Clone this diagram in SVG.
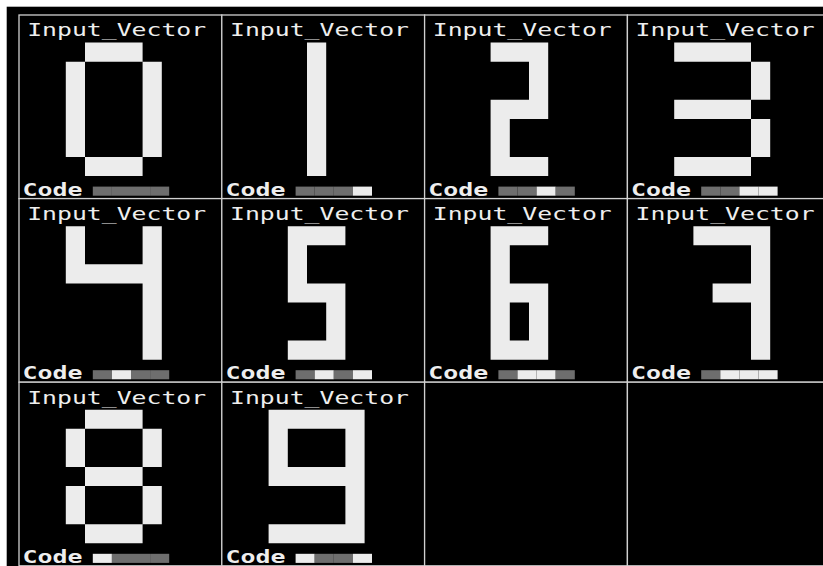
<svg xmlns="http://www.w3.org/2000/svg" width="823" height="566" viewBox="0 0 823 566">
<style>
.bg{fill:#ffffff}
.frame{fill:#000000}
.cell{fill:#000000;stroke:#d0d0d0;stroke-width:1.3}
.px{fill:#ececec;fill-rule:evenodd}
.lbl{font-family:"DejaVu Sans Mono","Liberation Mono",monospace;font-size:17px;fill:#eeeeee}
.code{font-family:"DejaVu Sans Mono","Liberation Mono",monospace;font-size:18px;font-weight:bold;fill:#eeeeee}
.b0{fill:#6e6e6e}
.b1{fill:#ececec}
</style>
<defs>
<g id="head">
<rect class="cell" width="202.8" height="183.6"/>
<text class="lbl" x="8.2" y="21.4" textLength="179" lengthAdjust="spacingAndGlyphs">Input_Vector</text>
<text class="code" x="3.6" y="180.8" textLength="60" lengthAdjust="spacingAndGlyphs">Code</text>
</g>
</defs>
<rect class="bg" x="0" y="0" width="823" height="566"/>
<rect class="frame" x="6.7" y="6.7" width="816.3" height="559.3"/>

<g id="panel-0" transform="translate(19,15)">
<use href="#head"/>
<path class="px" transform="translate(46.8,27.6) scale(19.2,19.07)" d="M1,0H4V1H1Z M0,1H1V6H0Z M4,1H5V6H4Z M1,6H4V7H1Z"/>
<rect class="b0" x="73.8" y="171.6" width="19.1" height="9.1"/><rect class="b0" x="92.9" y="171.6" width="19.1" height="9.1"/><rect class="b0" x="112" y="171.6" width="19.1" height="9.1"/><rect class="b0" x="131.1" y="171.6" width="19.1" height="9.1"/>
</g>

<g id="panel-1" transform="translate(221.8,15)">
<use href="#head"/>
<path class="px" transform="translate(46.8,27.6) scale(19.2,19.07)" d="M2,0H3V7H2Z"/>
<rect class="b0" x="73.8" y="171.6" width="19.1" height="9.1"/><rect class="b0" x="92.9" y="171.6" width="19.1" height="9.1"/><rect class="b0" x="112" y="171.6" width="19.1" height="9.1"/><rect class="b1" x="131.1" y="171.6" width="19.1" height="9.1"/>
</g>

<g id="panel-2" transform="translate(424.6,15)">
<use href="#head"/>
<path class="px" transform="translate(46.8,27.6) scale(19.2,19.07)" d="M1,0H4V4H2V6H4V7H1V3H3V1H1Z"/>
<rect class="b0" x="73.8" y="171.6" width="19.1" height="9.1"/><rect class="b0" x="92.9" y="171.6" width="19.1" height="9.1"/><rect class="b1" x="112" y="171.6" width="19.1" height="9.1"/><rect class="b0" x="131.1" y="171.6" width="19.1" height="9.1"/>
</g>

<g id="panel-3" transform="translate(627.4,15)">
<use href="#head"/>
<path class="px" transform="translate(46.8,27.6) scale(19.2,19.07)" d="M0,0H4V1H0Z M4,1H5V3H4Z M0,3H4V4H0Z M4,4H5V6H4Z M0,6H4V7H0Z"/>
<rect class="b0" x="73.8" y="171.6" width="19.1" height="9.1"/><rect class="b0" x="92.9" y="171.6" width="19.1" height="9.1"/><rect class="b1" x="112" y="171.6" width="19.1" height="9.1"/><rect class="b1" x="131.1" y="171.6" width="19.1" height="9.1"/>
</g>

<g id="panel-4" transform="translate(19,198.6)">
<use href="#head"/>
<path class="px" transform="translate(46.8,27.6) scale(19.2,19.07)" d="M0,0H1V2H4V0H5V7H4V3H0Z"/>
<rect class="b0" x="73.8" y="171.6" width="19.1" height="9.1"/><rect class="b1" x="92.9" y="171.6" width="19.1" height="9.1"/><rect class="b0" x="112" y="171.6" width="19.1" height="9.1"/><rect class="b0" x="131.1" y="171.6" width="19.1" height="9.1"/>
</g>

<g id="panel-5" transform="translate(221.8,198.6)">
<use href="#head"/>
<path class="px" transform="translate(46.8,27.6) scale(19.2,19.07)" d="M1,0H4V1H2V3H4V7H1V6H3V4H1Z"/>
<rect class="b0" x="73.8" y="171.6" width="19.1" height="9.1"/><rect class="b1" x="92.9" y="171.6" width="19.1" height="9.1"/><rect class="b0" x="112" y="171.6" width="19.1" height="9.1"/><rect class="b1" x="131.1" y="171.6" width="19.1" height="9.1"/>
</g>

<g id="panel-6" transform="translate(424.6,198.6)">
<use href="#head"/>
<path class="px" transform="translate(46.8,27.6) scale(19.2,19.07)" d="M1,0H4V1H2V3H4V7H1Z M2,4H3V6H2Z"/>
<rect class="b0" x="73.8" y="171.6" width="19.1" height="9.1"/><rect class="b1" x="92.9" y="171.6" width="19.1" height="9.1"/><rect class="b1" x="112" y="171.6" width="19.1" height="9.1"/><rect class="b0" x="131.1" y="171.6" width="19.1" height="9.1"/>
</g>

<g id="panel-7" transform="translate(627.4,198.6)">
<use href="#head"/>
<path class="px" transform="translate(46.8,27.6) scale(19.2,19.07)" d="M1,0H5V7H4V4H2V3H4V1H1Z"/>
<rect class="b0" x="73.8" y="171.6" width="19.1" height="9.1"/><rect class="b1" x="92.9" y="171.6" width="19.1" height="9.1"/><rect class="b1" x="112" y="171.6" width="19.1" height="9.1"/><rect class="b1" x="131.1" y="171.6" width="19.1" height="9.1"/>
</g>

<g id="panel-8" transform="translate(19,382.2)">
<use href="#head"/>
<path class="px" transform="translate(46.8,27.6) scale(19.2,19.07)" d="M1,0H4V1H1Z M0,1H1V3H0Z M4,1H5V3H4Z M1,3H4V4H1Z M0,4H1V6H0Z M4,4H5V6H4Z M1,6H4V7H1Z"/>
<rect class="b1" x="73.8" y="171.6" width="19.1" height="9.1"/><rect class="b0" x="92.9" y="171.6" width="19.1" height="9.1"/><rect class="b0" x="112" y="171.6" width="19.1" height="9.1"/><rect class="b0" x="131.1" y="171.6" width="19.1" height="9.1"/>
</g>

<g id="panel-9" transform="translate(221.8,382.2)">
<use href="#head"/>
<path class="px" transform="translate(46.8,27.6) scale(19.2,19.07)" d="M0,0H5V7H0V6H4V4H0Z M1,1V3H4V1Z"/>
<rect class="b1" x="73.8" y="171.6" width="19.1" height="9.1"/><rect class="b0" x="92.9" y="171.6" width="19.1" height="9.1"/><rect class="b0" x="112" y="171.6" width="19.1" height="9.1"/><rect class="b1" x="131.1" y="171.6" width="19.1" height="9.1"/>
</g>

<g id="panel-empty-1" transform="translate(424.6,382.2)">
<rect class="cell" width="202.8" height="183.6"/>
</g>

<g id="panel-empty-2" transform="translate(627.4,382.2)">
<rect class="cell" width="202.8" height="183.6"/>
</g>
</svg>
